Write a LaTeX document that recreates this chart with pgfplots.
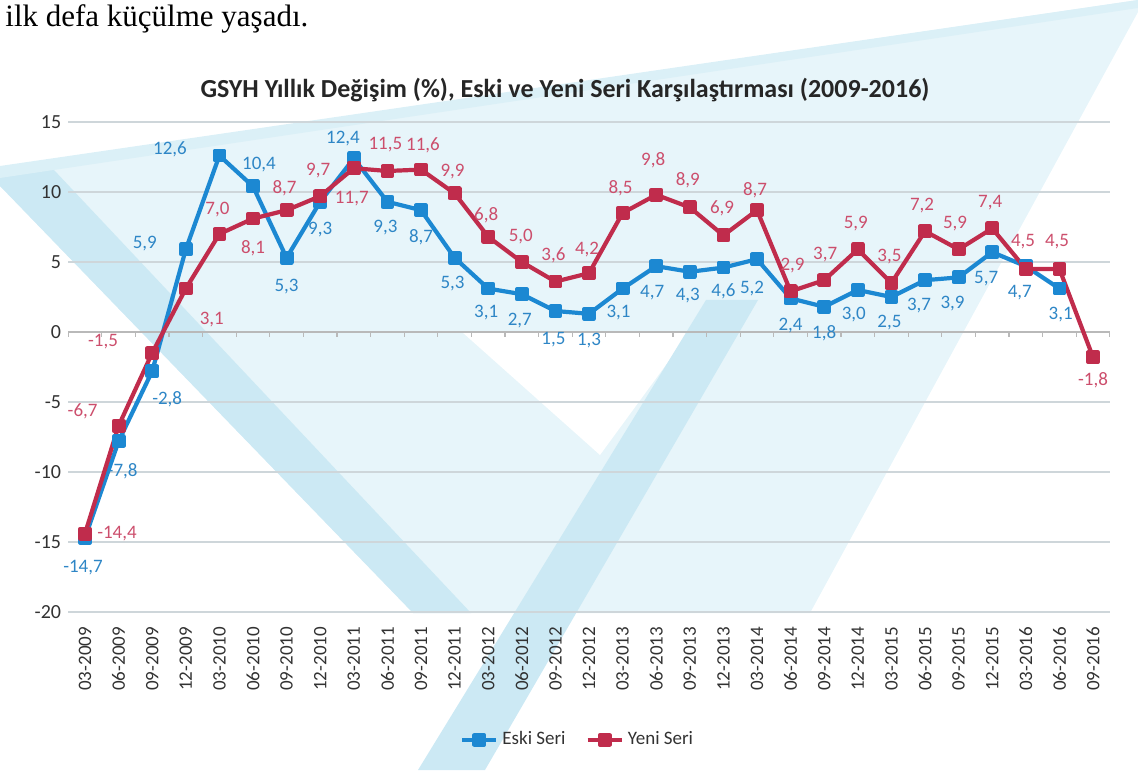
\documentclass[border=0pt]{standalone}
\usepackage{fontspec}
\setmainfont{Carlito}
\newfontfamily\serifTNR{Liberation Serif}
\usepackage{pgfplots}
\pgfplotsset{compat=1.18}
\usepackage{pgfplotstable}

\definecolor{eski}{RGB}{28,136,210}
\definecolor{yeni}{RGB}{192,44,76}
\definecolor{eskilbl}{RGB}{46,134,198}
\definecolor{yenilbl}{RGB}{204,78,108}
\definecolor{bglight}{RGB}{231,245,250}
\definecolor{bgstripe}{RGB}{204,233,244}
\definecolor{gridc}{RGB}{206,214,218}
\definecolor{txt}{RGB}{50,50,50}

\pgfplotstableread{
x y lbl dx dy
0 -14.7 {-14,7} -1 -15
1 -7.8 {-7,8} 2 -15
2 -2.8 {-2,8} 7.5 -14
3 5.9 {5,9} -20.5 3
4 12.6 {12,6} -24.7 3.3
5 10.4 {10,4} 3 10.7
6 5.3 {5,3} 0 -14.6
7 9.3 {9,3} 0 -14
8 12.4 {12,4} -5.4 9.7
9 9.3 {9,3} -1 -13
10 8.7 {8,7} 0 -13.5
11 5.3 {5,3} -1 -12.7
12 3.1 {3,1} -1 -12
13 2.7 {2,7} -1 -13
14 1.5 {1,5} -1 -14.5
15 1.3 {1,3} 0 -13.6
16 3.1 {3,1} -2 -12
17 4.7 {4,7} -2 -13
18 4.3 {4,3} -1 -12
19 4.6 {4,6} 0 -12
20 5.2 {5,2} -2.5 -14.5
21 2.4 {2,4} 0 -13.5
22 1.8 {1,8} 0 -13
23 3.0 {3,0} -2 -12.5
24 2.5 {2,5} -1 -13
25 3.7 {3,7} -3 -12.5
26 3.9 {3,9} -3 -13
27 5.7 {5,7} -3 -13
28 4.7 {4,7} -3 -13
29 3.1 {3,1} 0.6 -13
}\eskitable

\pgfplotstableread{
x y lbl dx dy
0 -14.4 {-14,4} 16 0
1 -6.7 {-6,7} -18 7
2 -1.5 {-1,5} -24.6 5.5
3 3.1 {3,1} 13 -15.7
4 7.0 {7,0} -1 12
5 8.1 {8,1} 0 -14.7
6 8.7 {8,7} -1 11
7 9.7 {9,7} -1 12.6
8 11.7 {11,7} -1 -15
9 11.5 {11,5} -1 13
10 11.6 {11,6} 1 12
11 9.9 {9,9} -1 10.7
12 6.8 {6,8} -1 11
13 5.0 {5,0} -0.5 12.5
14 3.6 {3,6} -1 13
15 4.2 {4,2} -1 11.6
16 8.5 {8,5} -1 12.5
17 9.8 {9,8} -1.5 17.5
18 8.9 {8,9} -1 13.7
19 6.9 {6,9} -0.7 13.7
20 8.7 {8,7} -1 10
21 2.9 {2,9} 1 13
22 3.7 {3,7} 0.5 12.6
23 5.9 {5,9} -1 13
24 3.5 {3,5} -1 13
25 7.2 {7,2} -1.5 13
26 5.9 {5,9} -1.8 12.7
27 7.4 {7,4} -1 12.7
28 4.5 {4,5} -1.4 13.5
29 4.5 {4,5} -1.2 13.5
30 -1.8 {-1,8} 0 -11.5
}\yenitable

\begin{document}
\begin{tikzpicture}
% faint watermark of the scanned page (pixel coordinates)
\begin{scope}[shift={(-34.1pt,306pt)}, x=0.5pt, y=-0.5pt]
  \fill[bglight] (0,168) -- (1138,0) -- (1138,12) -- (810,613) -- (413,613) -- (0,186) -- cycle;
  \fill[white] (462,332) -- (690,332) -- (600,455) -- cycle;
  \fill[bgstripe] (0,172) -- (54,170) -- (471,613) -- (413,613) -- (0,186) -- cycle;
  \fill[bgstripe] (706,300) -- (758,300) -- (485,770) -- (418,770) -- cycle;
  \fill[bgstripe!70] (0,166) -- (1138,0) -- (1138,8) -- (0,178) -- cycle;
\end{scope}

\begin{axis}[
  at={(0pt,0pt)}, anchor=south west,
  scale only axis, width=520.8pt, height=245pt,
  xmin=-0.5, xmax=30.5, ymin=-20, ymax=15,
  xtick={0,...,30},
  xticklabels={03-2009,06-2009,09-2009,12-2009,03-2010,06-2010,09-2010,12-2010,03-2011,06-2011,09-2011,12-2011,03-2012,06-2012,09-2012,12-2012,03-2013,06-2013,09-2013,12-2013,03-2014,06-2014,09-2014,12-2014,03-2015,06-2015,09-2015,12-2015,03-2016,06-2016,09-2016},
  x tick label style={rotate=90, anchor=east, font=\fontsize{9.5}{11}\selectfont, text=txt},
  xticklabel shift=4pt,
  ytick={-20,-15,-10,-5,0,5,10,15},
  yticklabels={-20,-15,-10,-5,0,5,10,15},
  y tick label style={font=\fontsize{10}{12}\selectfont, text=txt},
  ymajorgrids, grid style={gridc, line width=0.7pt},
  axis line style={draw=none}, major tick length=0pt,
  clip=false,
  legend style={at={(axis description cs:0.49,-0.261)}, anchor=center, draw=none, fill=none,
    legend columns=2, font=\fontsize{9.5}{11}\selectfont, text=txt,
    /tikz/every even column/.append style={column sep=8pt}},
  legend cell align=left,
]
\draw[gray!55, line width=0.8pt] (axis cs:-0.5,0) -- (axis cs:30.5,0);
\pgfplotsinvokeforeach{-0.5,0.5,...,30.5}{\draw[gray!55, line width=0.6pt] (axis cs:#1,0) -- ++(0pt,-2.5pt);}

\addplot[eski, line width=2.1pt, line join=round, mark=square*, mark size=2.4pt, mark options={solid},
  nodes near coords, point meta=explicit symbolic,
  visualization depends on={\thisrow{dx}\as\dx},
  visualization depends on={\thisrow{dy}\as\dy},
  nodes near coords align={anchor=center},
  every node near coord/.append style={anchor=center, font=\fontsize{9.5}{11}\selectfont, text=eskilbl, xshift=\dx pt, yshift=\dy pt, inner sep=0pt}]
  table[x=x, y=y, meta=lbl]{\eskitable};
\addlegendentry{Eski Seri}

\addplot[yeni, line width=2.1pt, line join=round, mark=square*, mark size=2.4pt, mark options={solid},
  nodes near coords, point meta=explicit symbolic,
  visualization depends on={\thisrow{dx}\as\dx},
  visualization depends on={\thisrow{dy}\as\dy},
  nodes near coords align={anchor=center},
  every node near coord/.append style={anchor=center, font=\fontsize{9.5}{11}\selectfont, text=yenilbl, xshift=\dx pt, yshift=\dy pt, inner sep=0pt}]
  table[x=x, y=y, meta=lbl]{\yenitable};
\addlegendentry{Yeni Seri}
\end{axis}

\begin{scope}[shift={(-34.1pt,306pt)}, x=0.5pt, y=-0.5pt]
  \node[anchor=base west, inner sep=0pt, font=\serifTNR\fontsize{15.5}{18}\selectfont] at (5,27) {ilk defa küçülme yaşadı.};
  \node[inner sep=0pt, font=\bfseries\fontsize{13}{15}\selectfont, text=black!85] at (565,90) {GSYH Yıllık Değişim (\%), Eski ve Yeni Seri Karşılaştırması (2009-2016)};
\end{scope}

\pgfresetboundingbox
\path[use as bounding box] (-34.1pt,-79pt) rectangle (534.9pt,306pt);
\end{tikzpicture}
\end{document}
